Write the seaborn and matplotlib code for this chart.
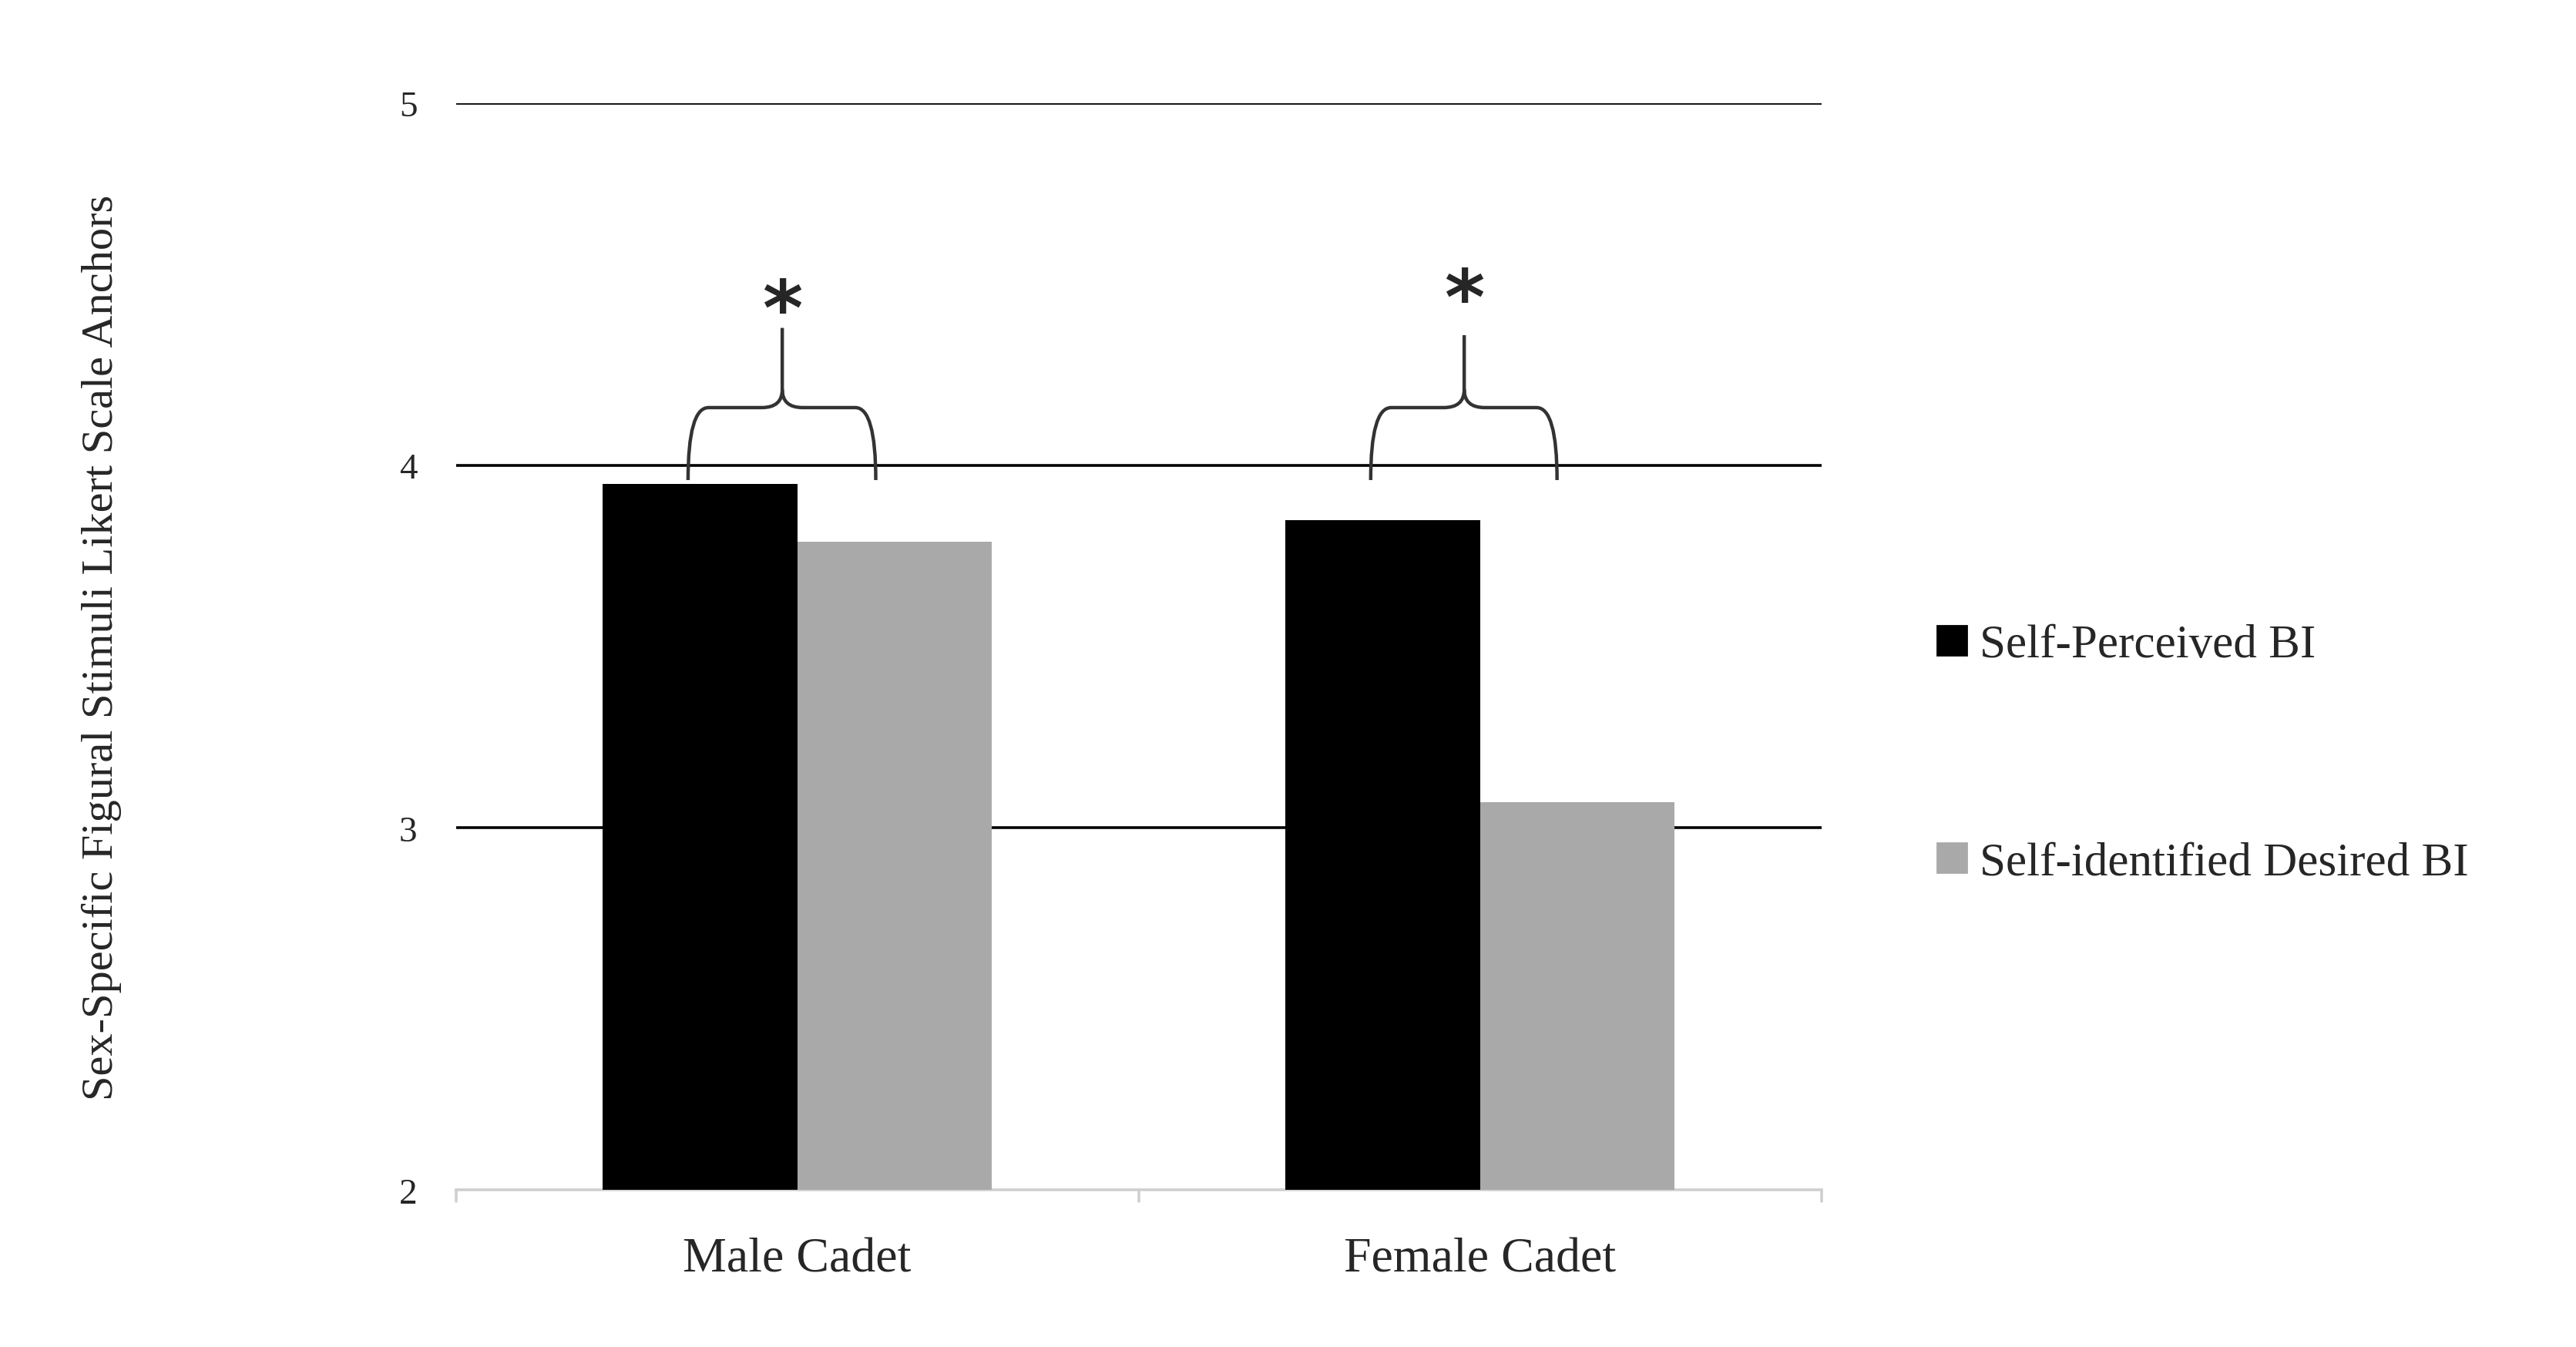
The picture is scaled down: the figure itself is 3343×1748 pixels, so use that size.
import pandas as pd
import matplotlib.pyplot as plt
import seaborn as sns
from matplotlib.path import Path
from matplotlib.patches import PathPatch
from matplotlib.lines import Line2D

# Data
groups = ["Male Cadet", "Female Cadet"]
series = ["Self-Perceived BI", "Self-identified Desired BI"]
perceived = [3.95, 3.85]
desired = [3.79, 3.07]
colors = ["#000000", "#a9a9a9"]

df = pd.DataFrame({
    "Group": groups * 2,
    "Series": [series[0]] * 2 + [series[1]] * 2,
    "Value": perceived + desired,
})

sns.set_style("white")
plt.rcParams['font.family'] = ['Liberation Serif', 'DejaVu Serif']

fig = plt.figure(figsize=(16.715, 8.745), dpi=200)
ax = fig.add_axes([0.177, 0.1164, 0.530, 0.8064])

sns.barplot(data=df, x="Group", y="Value", hue="Series", palette=colors,
            width=0.57, ax=ax, legend=False, saturation=1, zorder=3, linewidth=0)
ax.set_ylim(2, 5)
ax.set_xlim(-0.5, 1.5)
ax.set_yticks([2, 3, 4, 5])
ax.tick_params(axis='y', length=0, labelsize=17, pad=18)
ax.tick_params(axis='x', length=0, labelsize=23, pad=22)
for y in [3, 4, 5]:
    ax.axhline(y, color="black", lw=1.3, zorder=1)
for s in ["top", "right", "left"]:
    ax.spines[s].set_visible(False)
ax.spines["bottom"].set_color("#cfcfcf")
ax.spines["bottom"].set_linewidth(1.3)
for xb in [-0.5, 0.5, 1.5]:
    ax.plot([xb, xb], [2, 1.97], color="#cfcfcf", lw=1.3, clip_on=False)
ax.set_xlabel("")
ax.set_ylabel("Sex-Specific Figural Stimuli Likert Scale Anchors", fontsize=21, labelpad=0)
ax.yaxis.set_label_coords(-0.245, 0.5)


def brace(x0, x1, xc, yb, ym, yt):
    dx = 0.03
    dy = 0.05
    verts = [(x0, yb), (x0, ym), (x0 + dx, ym),
             (xc - dx, ym), (xc, ym), (xc, ym + dy),
             (xc, yt),
             (xc, ym + dy), (xc, ym), (xc + dx, ym),
             (x1 - dx, ym), (x1, ym), (x1, yb)]
    codes = [Path.MOVETO, Path.CURVE3, Path.CURVE3,
             Path.LINETO, Path.CURVE3, Path.CURVE3,
             Path.LINETO,
             Path.MOVETO, Path.CURVE3, Path.CURVE3,
             Path.LINETO, Path.CURVE3, Path.CURVE3]
    ax.add_patch(PathPatch(Path(verts, codes), fill=False, lw=1.6,
                           color="#333333", zorder=4))


brace(-0.16, 0.115, -0.022, 3.96, 4.16, 4.38)
brace(0.84, 1.113, 0.977, 3.96, 4.16, 4.36)
ax.text(-0.022, 4.42, "*", ha="center", va="center", fontsize=36, fontweight="bold",
        family="DejaVu Sans")
ax.text(0.977, 4.45, "*", ha="center", va="center", fontsize=36, fontweight="bold",
        family="DejaVu Sans")

handles = [Line2D([], [], marker="s", ls="", color=c, markersize=14) for c in colors]
fig.legend(handles, series, loc="center left", bbox_to_anchor=(0.732, 0.44),
           frameon=False, fontsize=22, labelspacing=3.7, handletextpad=0.1,
           handlelength=1.0)

fig.savefig("out.png", dpi=200)
